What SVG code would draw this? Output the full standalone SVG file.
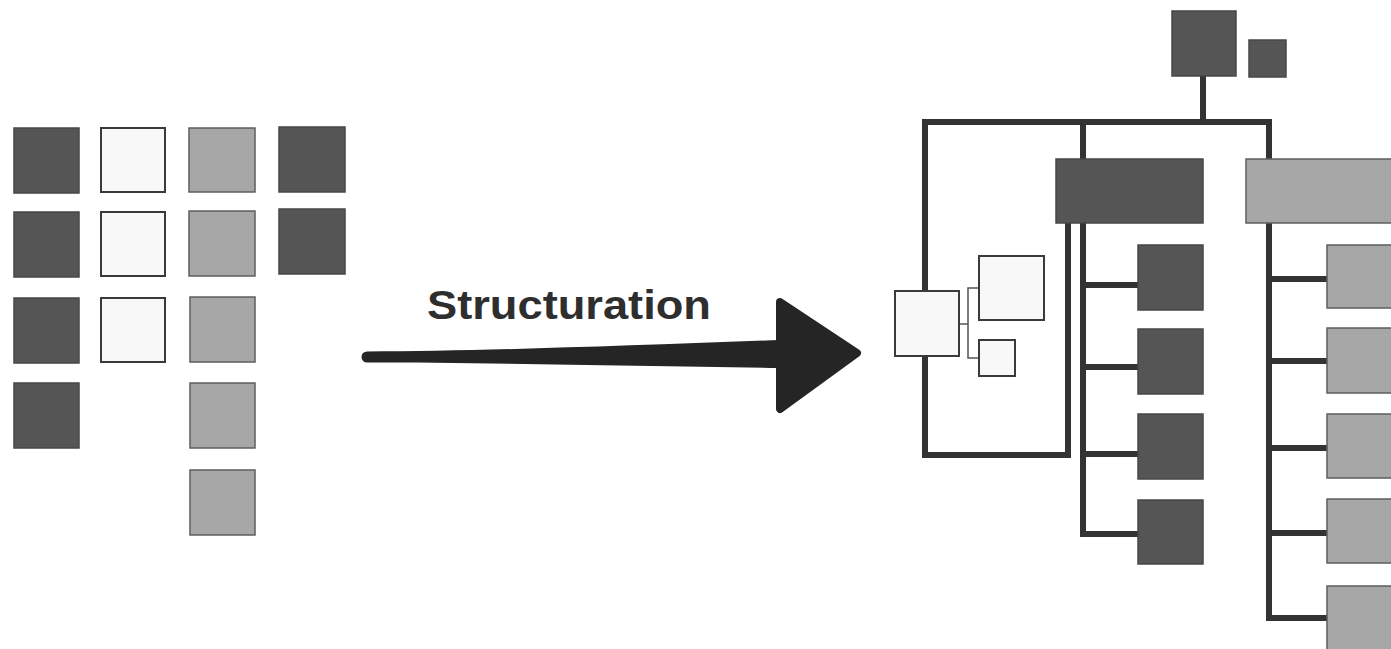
<svg xmlns="http://www.w3.org/2000/svg" width="1391" height="649" viewBox="0 0 1391 649">
  <style>
    .dark { fill: #555555; stroke: #474747; stroke-width: 1.5; }
    .grey { fill: #a7a7a7; stroke: #5e5e5e; stroke-width: 1.5; }
    .white { fill: #f8f8f8; stroke: #3a3a3a; stroke-width: 2; }
    .bus { fill: none; stroke: #333333; stroke-width: 6; stroke-linejoin: miter; stroke-linecap: square; }
    .thin { fill: none; stroke: #555555; stroke-width: 1.5; }
    .label { font-family: "Liberation Sans", Arial, sans-serif; font-weight: bold; font-size: 40px; fill: #2e2e2e; }
  </style>
  <rect width="1391" height="649" fill="#ffffff"/>

  <!-- unordered items -->
  <g id="loose-items">
    <rect id="a1" class="dark" x="14" y="128" width="65" height="65"/>
    <rect id="a2" class="dark" x="14" y="212" width="65" height="65"/>
    <rect id="a3" class="dark" x="14" y="298" width="65" height="65"/>
    <rect id="a4" class="dark" x="14" y="383" width="65" height="65"/>
    <rect id="b1" class="white" x="101" y="128" width="64" height="64"/>
    <rect id="b2" class="white" x="101" y="212" width="64" height="64"/>
    <rect id="b3" class="white" x="101" y="298" width="64" height="64"/>
    <rect id="c1" class="grey" x="189" y="128" width="66" height="64"/>
    <rect id="c2" class="grey" x="189" y="211" width="66" height="65"/>
    <rect id="c3" class="grey" x="190" y="297" width="65" height="65"/>
    <rect id="c4" class="grey" x="190" y="383" width="65" height="65"/>
    <rect id="c5" class="grey" x="190" y="470" width="65" height="65"/>
    <rect id="d1" class="dark" x="279" y="127" width="66" height="65"/>
    <rect id="d2" class="dark" x="279" y="209" width="66" height="65"/>
  </g>

  <!-- transformation arrow -->
  <g id="arrow">
    <text class="label" x="427" y="319" textLength="284" lengthAdjust="spacingAndGlyphs">Structuration</text>
    <path d="M 367,351.5 C 480,351 620,346 780,340 L 780,368 C 640,366 480,362.5 367,362.5 A 5.5 5.5 0 0 1 367,351.5 Z" fill="#252525"/>
    <polygon points="780,302 857,353 780,409" fill="#252525" stroke="#252525" stroke-width="8" stroke-linejoin="round"/>
  </g>

  <!-- tree connectors -->
  <g id="connectors">
    <path class="bus" d="M 1203,76 V 122"/>
    <path class="bus" d="M 925,290 V 122 H 1269 V 159"/>
    <path class="bus" d="M 1083,122 V 159"/>
    <path class="bus" d="M 925,356 V 455 H 1068 V 223"/>
    <path class="bus" d="M 1083,223 V 534 H 1138"/>
    <path class="bus" d="M 1083,285 H 1138 M 1083,367 H 1138 M 1083,454 H 1138"/>
    <path class="bus" d="M 1269,223 V 618 H 1327"/>
    <path class="bus" d="M 1269,279 H 1327 M 1269,361 H 1327 M 1269,448 H 1327 M 1269,533 H 1327"/>
    <path class="thin" d="M 959,324 H 968 M 979,288 H 968 V 358 H 979"/>
  </g>

  <!-- tree nodes -->
  <g id="root">
    <rect class="dark" x="1172" y="11" width="64" height="65"/>
  </g>
  <g id="root-tag">
    <rect class="dark" x="1249" y="40" width="37" height="37"/>
  </g>
  <g id="branch-dark">
    <rect class="dark" x="1056" y="159" width="147" height="64"/>
  </g>
  <g id="branch-grey">
    <rect class="grey" x="1246" y="159" width="150" height="64"/>
  </g>
  <g id="white-group">
    <rect class="white" x="895" y="291" width="64" height="65"/>
    <rect class="white" x="979" y="256" width="65" height="64"/>
    <rect class="white" x="979" y="340" width="36" height="36"/>
  </g>
  <g id="dark-leaves">
    <rect class="dark" x="1138" y="245" width="65" height="65"/>
    <rect class="dark" x="1138" y="329" width="65" height="65"/>
    <rect class="dark" x="1138" y="414" width="65" height="65"/>
    <rect class="dark" x="1138" y="500" width="65" height="64"/>
  </g>
  <g id="grey-leaves">
    <rect class="grey" x="1327" y="245" width="68" height="63"/>
    <rect class="grey" x="1327" y="328" width="68" height="65"/>
    <rect class="grey" x="1327" y="414" width="68" height="64"/>
    <rect class="grey" x="1327" y="499" width="68" height="64"/>
    <rect class="grey" x="1327" y="586" width="68" height="70"/>
  </g>
</svg>
